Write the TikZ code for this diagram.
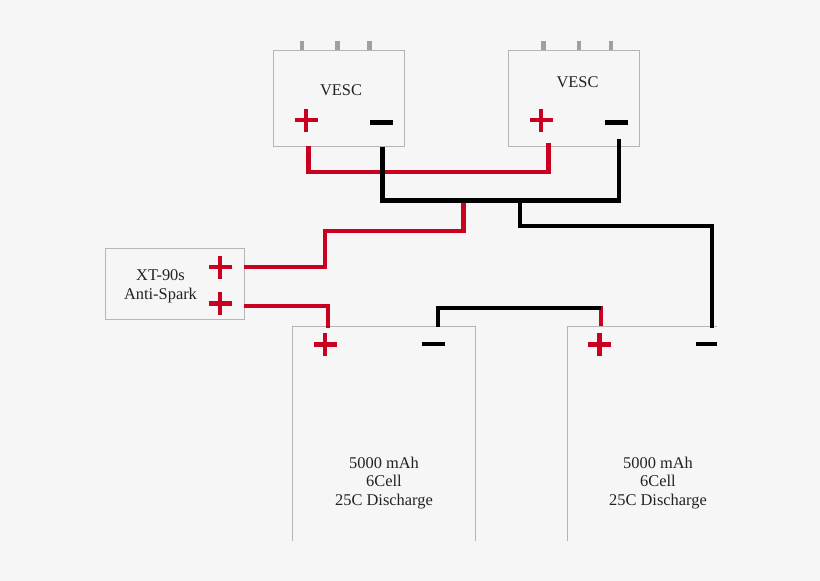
\documentclass[tikz,border=0pt]{standalone}
\usepackage{fontspec}
\setmainfont{Liberation Serif}
\definecolor{bg}{HTML}{F6F6F6}
\definecolor{wred}{HTML}{C9001F}
\definecolor{boxgray}{HTML}{B5B5B5}
\definecolor{pingray}{HTML}{A0A0A0}
\definecolor{txt}{HTML}{222222}
\tikzset{
  boxline/.style={draw=boxgray,line width=1pt},
  lbl/.style={text=txt,font=\fontsize{16.4}{18.7}\selectfont,align=center,inner sep=0pt},
  pin/.style={draw=pingray,line width=4.5pt},
  redwire/.style={draw=wred,line width=4.5pt,line join=miter},
  blackwire/.style={draw=black,line width=4.5pt,line join=miter},
  plusmark/.style={draw=wred,line width=4.5pt},
  minusmark/.style={draw=black,line width=4.5pt},
}
\newcommand{\plussign}[1]{\draw[plusmark] ([xshift=-11.5pt]#1) -- ([xshift=11.5pt]#1) ([yshift=-11.5pt]#1) -- ([yshift=11.5pt]#1);}
\begin{document}
\begin{tikzpicture}[x=1pt,y=-1pt]
\fill[bg] (0,0) rectangle (820,581);
\useasboundingbox (0,0) rectangle (820,581);

% pins
\foreach \x in {302,337.5,369.5,543.5,579,611} \draw[pin] (\x,41) -- (\x,51);

% boxes
\node[boxline,minimum width=131pt,minimum height=95.5pt,inner sep=0pt] (vesca) at (339,98.25) {};
\node[boxline,minimum width=131pt,minimum height=95.5pt,inner sep=0pt] (vescb) at (574,98.25) {};
\node[boxline,minimum width=139.5pt,minimum height=71pt,inner sep=0pt] (xt) at (174.75,284) {};

% open-bottomed batteries
\coordinate (bata) at (292.5,326);
\coordinate (batb) at (567.5,326);
\draw[boxline] (292.5,541) -- (bata) -- (475,326) -- (475,541);
\draw[boxline] (567.5,541) -- (batb) -- (717,326);

% labels
\node[lbl] (vescalbl) at (341,90) {VESC};
\node[lbl] (vescblbl) at (577.5,82.5) {VESC};
\node[lbl] (xtlbl) at (160.5,286.5) {XT-90s\\Anti-Spark};
\node[lbl] (batalbl) at (384,483) {5000 mAh\\6Cell\\25C Discharge};
\node[lbl] (batblbl) at (658,483) {5000 mAh\\6Cell\\25C Discharge};

% terminals
\coordinate (vap) at (306,120);
\coordinate (vbp) at (541,120);
\coordinate (xp1) at (220,267);
\coordinate (xp2) at (220,303.5);
\coordinate (bap) at (325,344.5);
\coordinate (bbp) at (599.5,344.5);
\plussign{vap}
\plussign{vbp}
\plussign{xp1}
\plussign{xp2}
\plussign{bap}
\plussign{bbp}
\draw[minusmark] (370,122.5) -- (392.5,122.5);
\draw[minusmark] (605,122.5) -- (628,122.5);
\draw[minusmark] (422,344) -- (445,344);
\draw[minusmark] (696,344) -- (717,344);

% wire junctions
\coordinate (vaplus) at (308.5,146);
\coordinate (vbplus) at (548.5,143);
\coordinate (vaminus) at (382.5,146.5);
\coordinate (vbminus) at (619,139);
\coordinate (busr) at (463.5,201);
\coordinate (busb) at (520,201);
\coordinate (xtout1) at (243.5,267);
\coordinate (xtout2) at (243.5,306);
\coordinate (batap) at (328,328);
\coordinate (batam) at (438,327);
\coordinate (batbp) at (601,326);
\coordinate (batbm) at (712,328);

% wires
\draw[redwire] (vaplus) |- (vbplus |- 0,172) -- (vbplus);
\draw[redwire] (busr) -- (463.5,231) -- (325,231) -- (325,267) -- (xtout1);
\draw[redwire] (xtout2) -| (batap);
\draw[blackwire] (vaminus) -- (382.5,200.5) -- (619,200.5) -- (vbminus);
\draw[blackwire] (busb) -- (520,226) -- (712,226) -- (batbm);
\draw[redwire] (601,306) -- (batbp);
\draw[blackwire] (batam) -- (438,308) -- (601,308);
\end{tikzpicture}
\end{document}
